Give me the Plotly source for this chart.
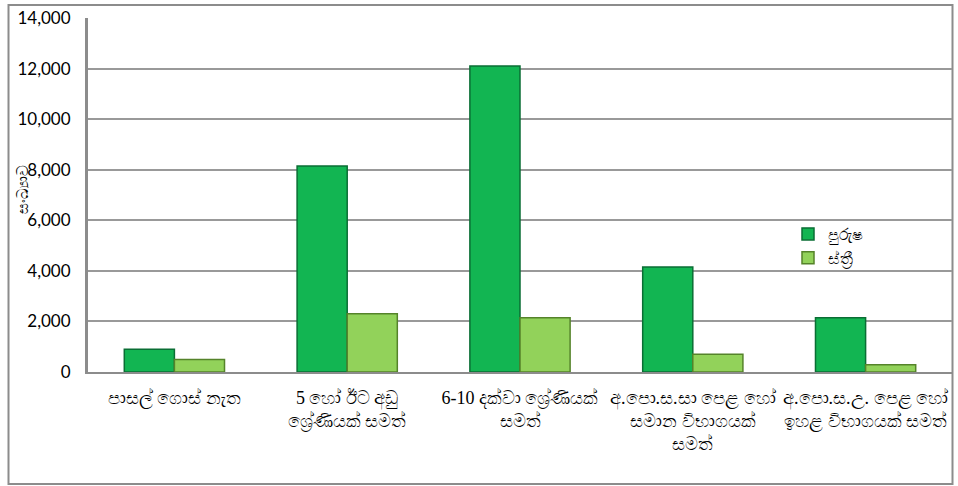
import plotly.graph_objects as go

categories = [
    "පාසල් ගොස් නැත",
    "5 හෝ ඊට අඩු<br>ශ්‍රේණියක් සමත්",
    "6-10 දක්වා ශ්‍රේණියක්<br>සමත්",
    "අ.පො.ස.සා පෙළ හෝ<br>සමාන විභාගයක්<br>සමත්",
    "අ.පො.ස.උ. පෙළ හෝ<br>ඉහළ විභාගයක් සමත්",
]
male = [900, 8150, 12100, 4150, 2150]
female = [490, 2300, 2150, 700, 290]
series_names = ["පුරුෂ", "ස්ත්‍රී"]
y_title = "සංඛ්‍යාව"
tick_vals = [0, 2000, 4000, 6000, 8000, 10000, 12000, 14000]
tick_text = ["0", "2,000", "4,000", "6,000", "8,000", "10,000", "12,000", "14,000"]

fig = go.Figure()
fig.add_trace(go.Bar(
    x=categories, y=male, name=series_names[0],
    marker=dict(color="#12b552", line=dict(color="#0a6e34", width=1.5)),
))
fig.add_trace(go.Bar(
    x=categories, y=female, name=series_names[1],
    marker=dict(color="#92d25a", line=dict(color="#55832a", width=1.5)),
))

W, H = 958, 486
L, R, T, B = 88, 6, 18, 114
pw, ph = W - L - R, H - T - B

def px_x(p):
    return (p - L) / pw

def px_y(p):
    return (H - B - p) / ph

fig.update_layout(
    width=W, height=H,
    margin=dict(l=L, r=R, t=T, b=B),
    paper_bgcolor="white", plot_bgcolor="white",
    barmode="group", bargap=0.42, bargroupgap=0,
    font=dict(family="Lato, 'Liberation Sans', sans-serif", size=17, color="black"),
    showlegend=True,
    legend=dict(
        x=px_x(788), y=px_y(217), xanchor="left", yanchor="top",
        bgcolor="rgba(0,0,0,0)", font=dict(size=16),
        itemwidth=30, tracegroupgap=0,
    ),
    xaxis=dict(
        showgrid=False, showline=True, linecolor="#8c8c8c", linewidth=2,
        tickfont=dict(family="'Liberation Serif', serif", size=18),
        tickangle=0, ticks="", ticklabelstandoff=8, automargin=False,
    ),
    yaxis=dict(
        range=[0, 14000], tickvals=tick_vals, ticktext=tick_text,
        showgrid=True, gridcolor="#999999", gridwidth=2,
        showline=True, linecolor="#8c8c8c", linewidth=3,
        zeroline=False, ticks="", ticklabelstandoff=11,
        automargin=False,
    ),
    shapes=[
        dict(type="rect", xref="paper", yref="paper",
             x0=px_x(8.5), x1=px_x(952.5), y0=px_y(484), y1=px_y(5),
             line=dict(color="#8c8c8c", width=2), fillcolor="rgba(0,0,0,0)",
             layer="below"),
    ],
    annotations=[
        dict(text=y_title, xref="paper", yref="paper",
             x=px_x(22), y=px_y(190), textangle=-90, showarrow=False,
             font=dict(size=15), xanchor="center", yanchor="middle"),
    ],
)

fig.write_html(
    "out.html",
    config={"displayModeBar": False},
    post_script="document.body.style.margin='0';document.body.style.overflow='hidden';",
)
